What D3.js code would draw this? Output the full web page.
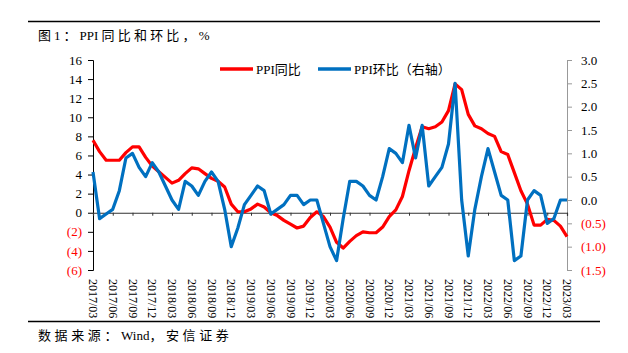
<!DOCTYPE html>
<html lang="zh">
<head>
  <meta charset="UTF-8">
  <title>PPI同比和环比</title>
  <script src="https://d3js.org/d3.v7.min.js"></script>
  <style>
    body {
      margin: 0;
      background: #fff;
      font-family: "Liberation Serif", "Noto Sans CJK SC", serif;
    }
    svg text {
      font-family: "Liberation Serif", "Noto Sans CJK SC", serif;
    }
  </style>
</head>
<body>
  <svg width="628" height="353"></svg>

  <script>
    // monthly, 2017/03 .. 2023/03
    const startYear = 2017, startMonth = 3, nMonths = 73;

    // PPI year-on-year, % (left axis)
    const ppiYoy = [
      7.6, 6.4, 5.5, 5.5, 5.5, 6.3, 6.9, 6.9, 5.8, 4.9,
      4.3, 3.7, 3.1, 3.4, 4.1, 4.7, 4.6, 4.1, 3.6, 3.3, 2.7, 0.9,
      0.1, 0.1, 0.4, 0.9, 0.6, 0.0, -0.3, -0.8, -1.2, -1.6, -1.4, -0.5,
      0.1, -0.4, -1.5, -3.1, -3.7, -3.0, -2.4, -2.0, -2.1, -2.1, -1.5, -0.4,
      0.3, 1.7, 4.4, 6.8, 9.0, 8.8, 9.0, 9.5, 10.7, 13.5, 12.9, 10.3,
      9.1, 8.8, 8.3, 8.0, 6.4, 6.1, 4.2, 2.3, 0.9, -1.3, -1.3, -0.7,
      -0.8, -1.4, -2.5
    ];

    // PPI month-on-month, % (right axis)
    const ppiMom = [
      0.6, -0.4, -0.3, -0.2, 0.2, 0.9, 1.0, 0.7, 0.5, 0.8,
      0.6, 0.3, 0.0, -0.2, 0.4, 0.3, 0.1, 0.4, 0.6, 0.4, -0.2, -1.0,
      -0.6, -0.1, 0.1, 0.3, 0.2, -0.3, -0.2, -0.1, 0.1, 0.1, -0.1, 0.0,
      0.0, -0.5, -1.0, -1.3, -0.4, 0.4, 0.4, 0.3, 0.1, 0.0, 0.5, 1.1,
      1.0, 0.8, 1.6, 0.9, 1.6, 0.3, 0.5, 0.7, 1.2, 2.5, 0.0, -1.2,
      -0.2, 0.5, 1.1, 0.6, 0.1, 0.0, -1.3, -1.2, 0.0, 0.2, 0.1, -0.5,
      -0.4, 0.0, 0.0
    ];

    const leftTicks = [16, 14, 12, 10, 8, 6, 4, 2, 0, -2, -4, -6];
    const rightTicks = [3.0, 2.5, 2.0, 1.5, 1.0, 0.5, 0.0, -0.5, -1.0, -1.5];
    const xTickLabels = [
      "2017/03", "2017/06", "2017/09", "2017/12", "2018/03", "2018/06", "2018/09",
      "2018/12", "2019/03", "2019/06", "2019/09", "2019/12", "2020/03", "2020/06",
      "2020/09", "2020/12", "2021/03", "2021/06", "2021/09", "2021/12", "2022/03",
      "2022/06", "2022/09", "2022/12", "2023/03"
    ];

    const months = d3.range(nMonths).map(i => {
      const m = startMonth - 1 + i;
      const y = startYear + Math.floor(m / 12);
      return y + "/" + String(m % 12 + 1).padStart(2, "0");
    });

    const svg = d3.select("svg");

    const x = d3.scalePoint().domain(months).range([93, 567]);
    const yL = d3.scaleLinear().domain([-6, 16]).range([270, 60]);
    const yR = d3.scaleLinear().domain([-1.5, 3]).range([270, 60]);

    const RED = "#ff0000", BLUE = "#0070c0";

    // frame lines + title + source
    svg.append("line").attr("x1", 28).attr("x2", 600).attr("y1", 21.5).attr("y2", 21.5)
      .attr("stroke", "#000").attr("stroke-width", 1.5);
    svg.append("line").attr("x1", 28).attr("x2", 600).attr("y1", 321.5).attr("y2", 321.5)
      .attr("stroke", "#000").attr("stroke-width", 1.5);

    // CJK parts get wider spacing, latin parts stay tight
    function spacedText(xPos, yPos, parts) {
      const t = svg.append("text").attr("x", xPos).attr("y", yPos).attr("font-size", 13);
      parts.forEach(([s, sp]) => t.append("tspan").attr("letter-spacing", sp).text(s));
    }
    spacedText(38, 40, [["图1：", 3], ["PPI\u00a0", 0], ["同比和环比，%", 3.2]]);
    spacedText(38, 340, [["数据来源：", 3.6], ["Wind", 0], ["，安信证券", 3.6]]);

    // left axis
    const leftAxis = d3.axisLeft(yL).tickValues(leftTicks).tickSize(5).tickPadding(6)
      .tickFormat(d => d < 0 ? "(" + (-d) + ")" : d);
    const gL = svg.append("g").attr("transform", "translate(93,0)").call(leftAxis);
    gL.select(".domain").attr("stroke", "#000");
    gL.selectAll(".tick line").attr("stroke", "#000");
    gL.selectAll(".tick text")
      .attr("font-size", 13)
      .attr("fill", d => d < 0 ? RED : "#000");

    // right axis
    const rightAxis = d3.axisRight(yR).tickValues(rightTicks).tickSize(5).tickPadding(9)
      .tickFormat(d => d < 0 ? "(" + d3.format(".1f")(-d) + ")" : d3.format(".1f")(d));
    const gR = svg.append("g").attr("transform", "translate(567,0)").call(rightAxis);
    gR.select(".domain").attr("stroke", "#999");
    gR.selectAll(".tick line").attr("stroke", "#999");
    gR.selectAll(".tick text")
      .attr("font-size", 13)
      .attr("fill", d => d < 0 ? RED : "#000");

    // x axis on zero line
    const xAxis = d3.axisBottom(x).tickValues(xTickLabels).tickSize(3).tickFormat("");
    const gX = svg.append("g").attr("transform", `translate(0,${yL(0)})`).call(xAxis);
    gX.select(".domain").attr("stroke", "#333").attr("stroke-width", 1.2);
    gX.selectAll(".tick line").attr("stroke", "#333");

    // rotated month labels
    svg.append("g").selectAll("text")
      .data(xTickLabels)
      .join("text")
      .attr("transform", d => `translate(${x(d) - 4},279) rotate(90)`)
      .attr("font-size", 12)
      .attr("fill", "#000")
      .text(d => d);

    // lines
    const lineL = d3.line().x((d, i) => x(months[i])).y(d => yL(d));
    const lineR = d3.line().x((d, i) => x(months[i])).y(d => yR(d));

    svg.append("path").datum(ppiYoy)
      .attr("d", lineL).attr("fill", "none")
      .attr("stroke", RED).attr("stroke-width", 3.2).attr("stroke-linejoin", "round");
    svg.append("path").datum(ppiMom)
      .attr("d", lineR).attr("fill", "none")
      .attr("stroke", BLUE).attr("stroke-width", 3.2).attr("stroke-linejoin", "round");

    // legend
    const legend = svg.append("g").attr("transform", "translate(0,69)");
    const items = [
      { label: "PPI同比", color: RED, x: 220 },
      { label: "PPI环比（右轴）", color: BLUE, x: 318 }
    ];
    items.forEach(it => {
      legend.append("line").attr("x1", it.x).attr("x2", it.x + 33).attr("y1", 0).attr("y2", 0)
        .attr("stroke", it.color).attr("stroke-width", 3.5);
      legend.append("text").attr("x", it.x + 36).attr("y", 4.5)
        .attr("font-size", 13).text(it.label);
    });
  </script>
</body>
</html>
